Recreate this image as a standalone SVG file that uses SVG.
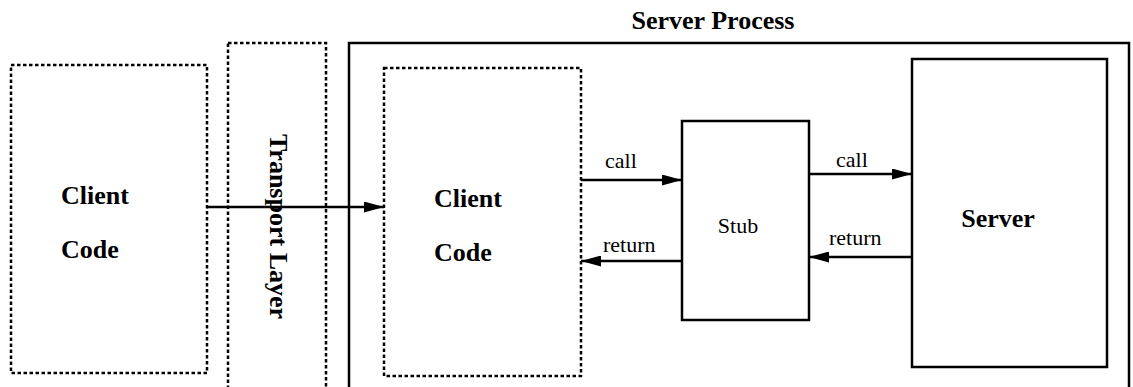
<svg xmlns="http://www.w3.org/2000/svg" width="1133" height="387" viewBox="0 0 1133 387">
<style>
.solid{fill:none;stroke:#000;stroke-width:2.5}
.dash{fill:none;stroke:#000;stroke-width:2.5;stroke-dasharray:3.5 2.5}
.big{font-family:"Liberation Serif","Times New Roman",serif;font-weight:bold;font-size:26px;fill:#000}
.small{font-family:"Liberation Serif","Times New Roman",serif;font-size:22px;fill:#000}
.arrow{stroke:#000;stroke-width:2.5;fill:none;marker-end:url(#ah)}
</style>
<defs>
<marker id="ah" markerWidth="20" markerHeight="11" refX="20" refY="5.5" orient="auto" markerUnits="userSpaceOnUse">
<path d="M0,0 L20,5.5 L0,11 z" fill="#000"/>
</marker>
</defs>
<rect width="1133" height="387" fill="#fff"/>
<g id="client-left">
<rect class="dash" x="11" y="65" width="196" height="308"/>
<text class="big" x="61" y="204">Client</text>
<text class="big" x="61" y="258">Code</text>
</g>
<g id="transport">
<rect class="dash" x="228" y="43" width="98" height="360"/>
<text class="big" transform="translate(270,226.5) rotate(90)" text-anchor="middle" font-size="27">Transport Layer</text>
</g>
<g id="server-process">
<rect class="solid" x="349" y="43" width="780" height="360"/>
<text class="big" x="713" y="29" text-anchor="middle">Server Process</text>
</g>
<g id="client-inner">
<rect class="dash" x="384" y="68" width="197" height="308"/>
<text class="big" x="434" y="207">Client</text>
<text class="big" x="434" y="261">Code</text>
</g>
<g id="stub">
<rect class="solid" x="682" y="121" width="127" height="199"/>
<text class="small" x="738" y="233" text-anchor="middle">Stub</text>
</g>
<g id="server">
<rect class="solid" x="912" y="59" width="195" height="308"/>
<text class="big" x="998" y="227" text-anchor="middle">Server</text>
</g>
<g id="connectors">
<line class="arrow" x1="207" y1="207" x2="384" y2="207"/>
<line class="arrow" x1="581" y1="180" x2="682" y2="180"/>
<line class="arrow" x1="682" y1="261" x2="581" y2="261"/>
<line class="arrow" x1="809" y1="174" x2="912" y2="174"/>
<line class="arrow" x1="912" y1="257" x2="809" y2="257"/>
<text class="small" x="605" y="168">call</text>
<text class="small" x="603" y="252">return</text>
<text class="small" x="836" y="167">call</text>
<text class="small" x="829" y="245">return</text>
</g>
</svg>
